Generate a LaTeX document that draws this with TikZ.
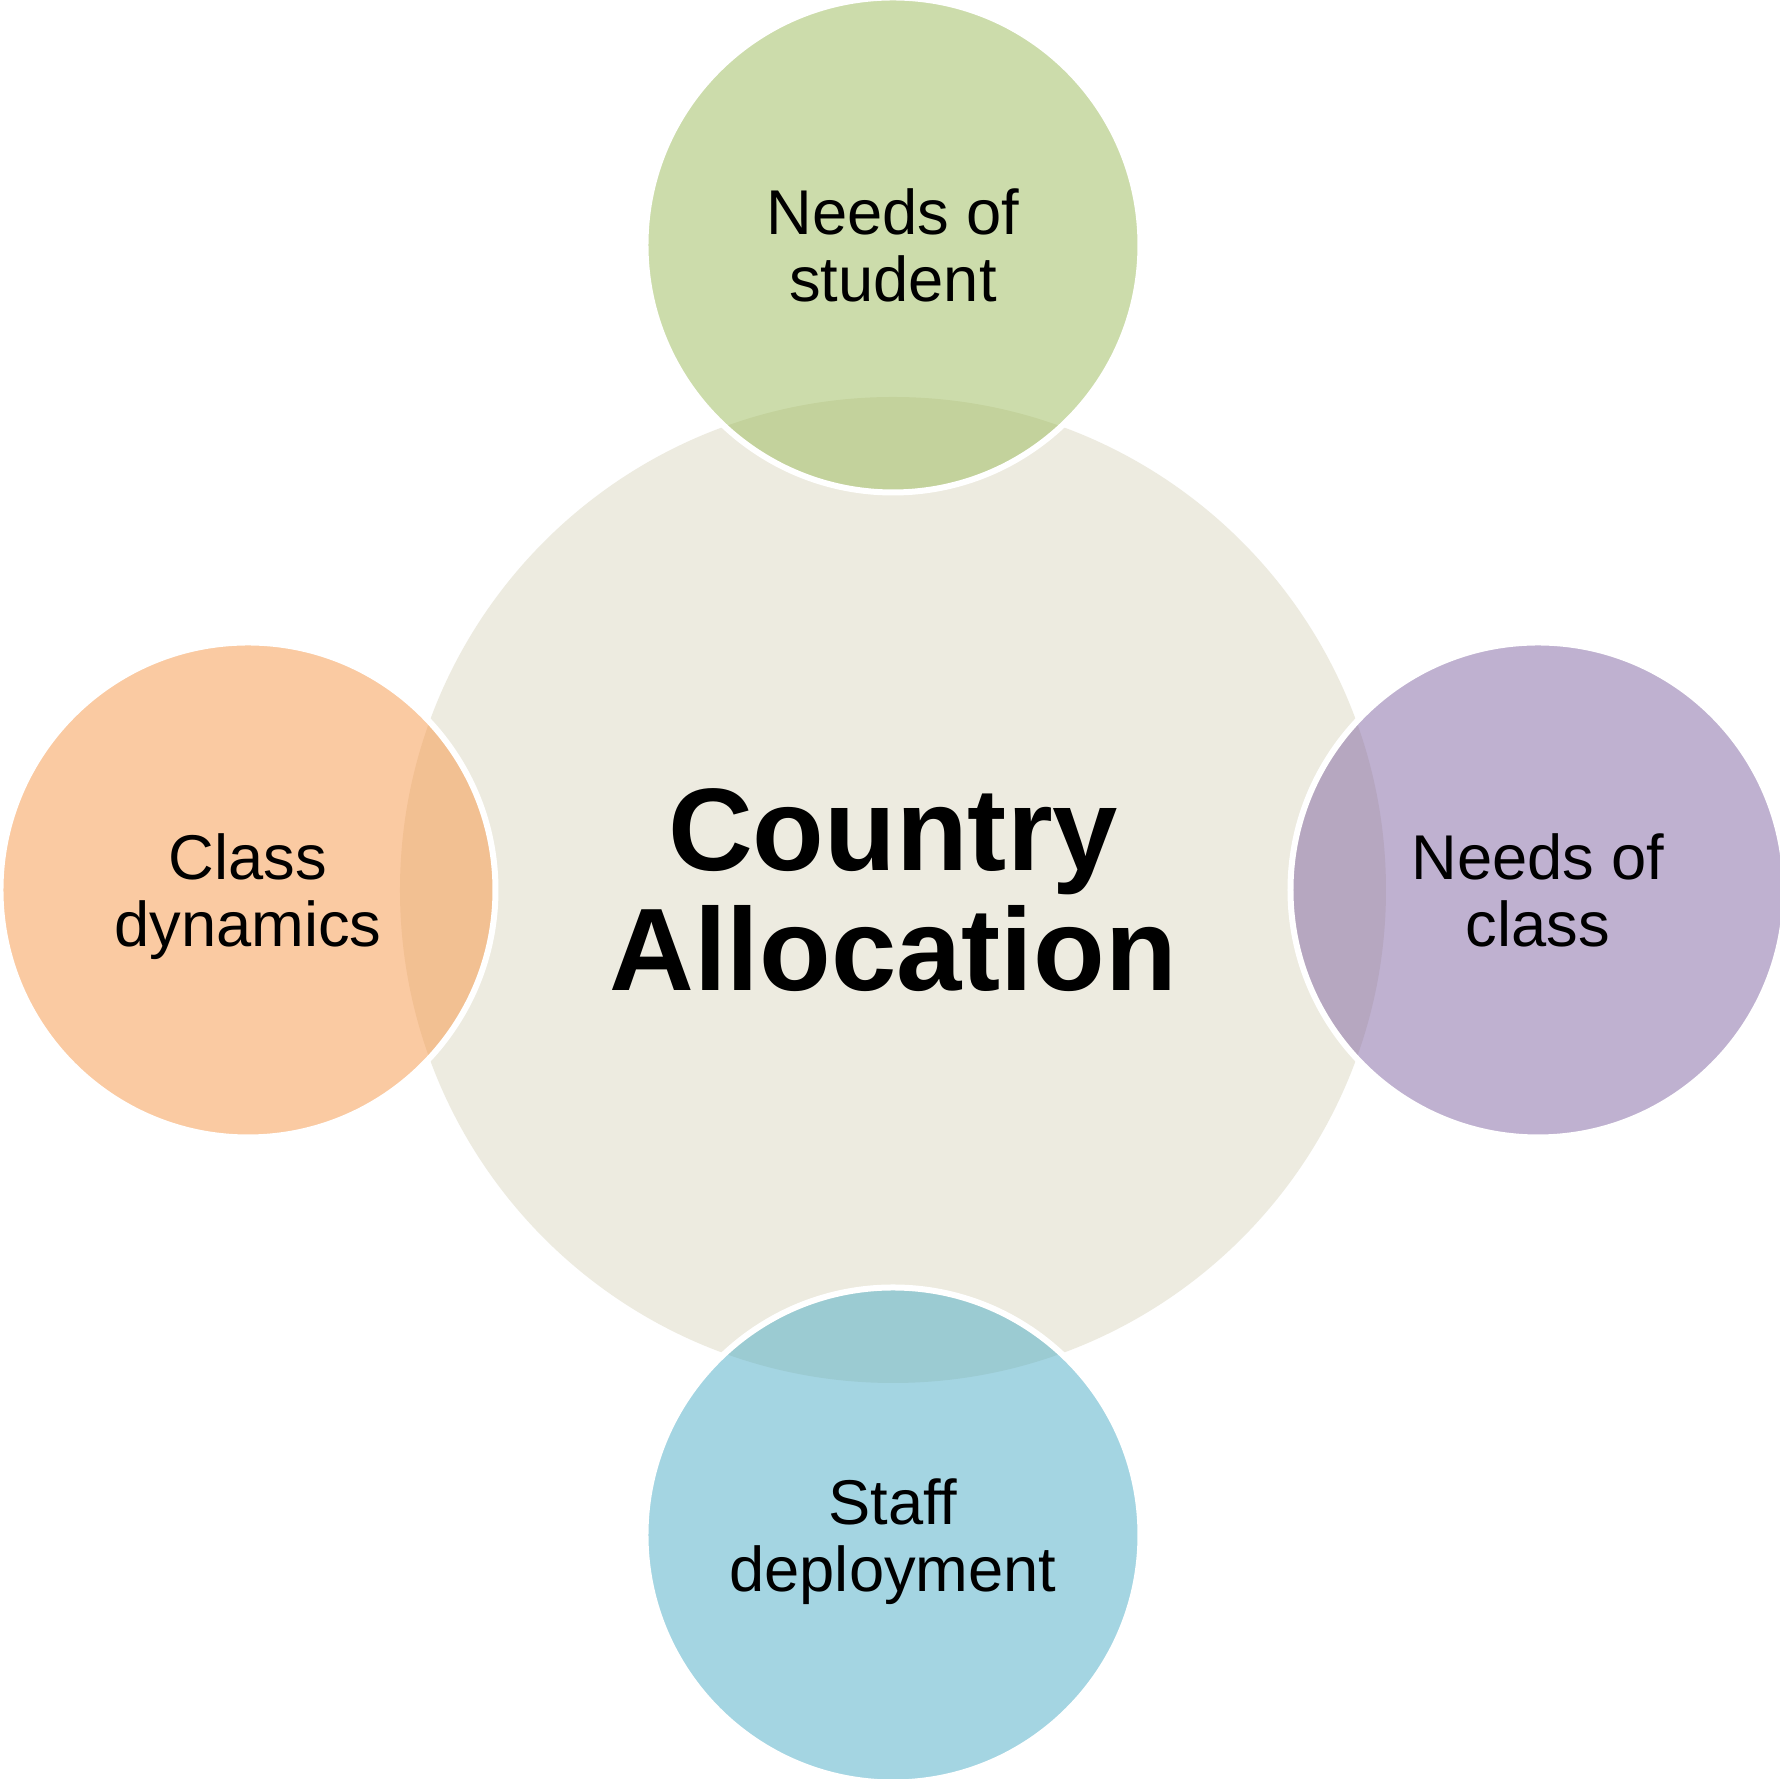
\documentclass[tikz,border=0pt]{standalone}
\usepackage{fontspec}
\setmainfont{Liberation Sans}
\usepackage{tikz}

\definecolor{hubtan}{RGB}{237,235,224}
\definecolor{olivegreen}{HTML}{9BBB59}
\definecolor{accentorange}{HTML}{F79646}
\definecolor{accentpurple}{HTML}{8064A2}
\definecolor{accentblue}{HTML}{4BACC6}

\begin{document}
\begin{tikzpicture}[node distance=6.45cm]
  \tikzstyle{hub}=[circle,fill=hubtan,minimum size=9.86cm,align=center,font=\fontsize{33.4}{34}\selectfont\bfseries]
  \tikzstyle{spoke}=[circle,draw=white,line width=0.06cm,fill opacity=0.5,text opacity=1,minimum size=4.95cm,align=center,text depth=0pt,font=\fontsize{18}{18.9}\selectfont]

  \useasboundingbox (-8.93,-8.89) rectangle (8.87,8.90);
  \fill[white] (-8.93,-8.89) rectangle (8.87,8.90);

  \node[hub] (C) {Country\\Allocation};

  \node[spoke,fill=olivegreen]   (N) [above of=C] {Needs of\\student};
  \node[spoke,fill=accentpurple] (E) [right of=C] {Needs of\\class};
  \node[spoke,fill=accentblue]   (S) [below of=C] {Staff\\deployment};
  \node[spoke,fill=accentorange] (W) [left of=C]  {Class\\dynamics};
\end{tikzpicture}
\end{document}
